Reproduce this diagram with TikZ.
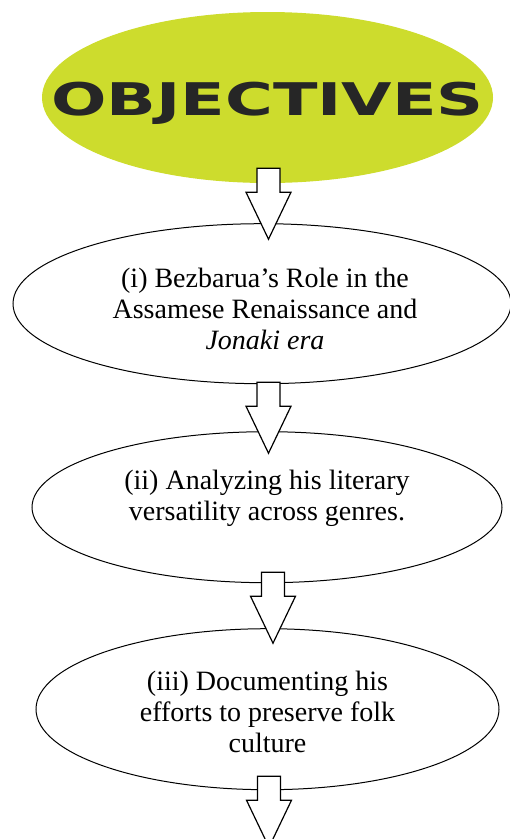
\documentclass[tikz,border=0pt]{standalone}
\usepackage{fontspec}
\setmainfont{Liberation Serif}
\newfontfamily\headfont{DejaVu Sans}
\usetikzlibrary{shapes.geometric,positioning,calc}
\definecolor{objgreen}{RGB}{205,220,45}

\begin{document}
\begin{tikzpicture}[x=1pt, y=1pt,
		head/.style = {ellipse, fill=objgreen, minimum width=451pt, minimum height=171pt, inner sep=0pt},
		headtext/.style = {font=\headfont\bfseries\fontsize{45}{45}\selectfont, text=black!85, inner sep=0pt, text depth=0pt},
		oval/.style = {draw, ellipse, line width=1pt, inner sep=0pt},
		ovaltext/.style = {align=center, inner sep=0pt, font=\fontsize{28}{31}\selectfont},
		blockarr/.pic = {\draw[line width=1.2pt, fill=white] (-11.5,0) -- (11.5,0) -- (11.5,-24) -- (22.5,-24) -- (0,-71) -- (-22.5,-24) -- (-11.5,-24) -- cycle;}] 
	\clip (0,0) rectangle (510,-839);
	\node[head, label={[headtext, yshift=-1pt]center:\scalebox{1.45}[1]{OBJECTIVES}}] (obj) at (267.5,-97.5) {};
	\node[oval, minimum width=498pt, minimum height=160pt, label={[ovaltext, xshift=3pt, yshift=-5pt]center:{(i) Bezbarua’s Role in the\\Assamese Renaissance and\\\textit{Jonaki era}}}] (r1) [below=40pt of obj, xshift=-5.5pt] {};
	\node[oval, minimum width=470pt, minimum height=151pt, label={[ovaltext, yshift=8.5pt]center:{(ii) Analyzing his literary\\versatility across genres.}}] (r2) [below=47pt of r1, xshift=5pt] {};
	\node[oval, minimum width=463pt, minimum height=161pt, label={[ovaltext, yshift=-3pt]center:{(iii) Documenting his\\efforts to preserve folk\\culture}}] (r3) [below=45pt of r2, xshift=0.5pt] {};
	\pic at ($(obj.south)+(1,15)$) {blockarr};
	\pic at ($(r1.south)+(6.5,2)$) {blockarr};
	\pic at ($(r2.south)+(6,11)$) {blockarr};
	\pic at ($(r3.south)+(1.5,14)$) {blockarr};
\end{tikzpicture}
\end{document}
